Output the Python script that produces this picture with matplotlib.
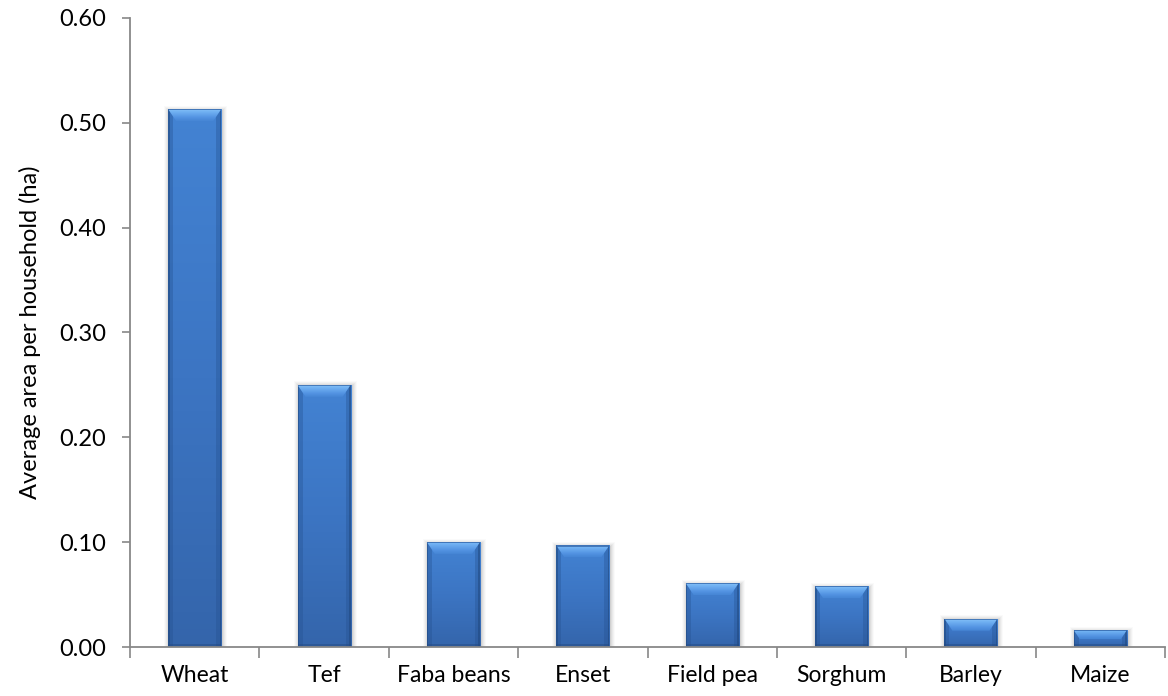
import numpy as np
import matplotlib.pyplot as plt
from matplotlib.patches import Polygon, Rectangle
from matplotlib.colors import LinearSegmentedColormap

# Average cultivated area per household by crop
crops = ["Wheat", "Tef", "Faba beans", "Enset", "Field pea", "Sorghum", "Barley", "Maize"]
area_ha = [0.513, 0.250, 0.100, 0.097, 0.061, 0.058, 0.027, 0.016]
y_ticks = [0.00, 0.10, 0.20, 0.30, 0.40, 0.50, 0.60]
y_label = "Average area per household (ha)"

plt.rcParams['font.family'] = ['Lato', 'DejaVu Sans']

W, H = 1168, 696
fig = plt.figure(figsize=(W / 100, H / 100), dpi=100)
ax_l, ax_b, ax_w, ax_h = 130, 49, 1035, 629
ax = fig.add_axes([ax_l / W, ax_b / H, ax_w / W, ax_h / H])

n = len(crops)
x = np.arange(n)
xlim = (-0.5, n - 0.5)
ylim = (0, 0.6)
sx = (xlim[1] - xlim[0]) / ax_w   # data units per pixel, x
sy = (ylim[1] - ylim[0]) / ax_h   # data units per pixel, y

bar_w = 0.41
body_cmap = LinearSegmentedColormap.from_list("body", ["#4383d3", "#3c75c3", "#3465ab"])
bevel_cmap = LinearSegmentedColormap.from_list(
    "bevel", [(0, "#86c0f7"), (0.25, "#6fb0f2"), (0.7, "#5393e2"), (1, "#4585d4")])
grad = np.linspace(0, 1, 256).reshape(-1, 1)

bars = ax.bar(x, area_ha, width=bar_w, color="#3a74c4", zorder=3, linewidth=0)

for rect, h in zip(bars, area_ha):
    x0 = rect.get_x()
    x1 = x0 + rect.get_width()
    # soft shadow around the bar
    for k, a in [(5, 0.025), (4, 0.035), (3, 0.045), (2, 0.06), (1, 0.08)]:
        ax.add_patch(Rectangle((x0 - k * sx + 1.0 * sx, 0),
                               (x1 - x0) + 2 * k * sx, h + k * sy - 1.5 * sy,
                               facecolor="#303030", alpha=a, linewidth=0, zorder=2))
    # body gradient
    im = ax.imshow(grad, extent=[x0, x1, 0, h], aspect="auto", cmap=body_cmap,
                   origin="upper", zorder=4, interpolation="bilinear")
    im.set_clip_path(rect)
    # side bevels: darker strips along the edges
    sw = 5
    for xs in (x0, x1 - sw * sx):
        ax.add_patch(Rectangle((xs, 0), sw * sx, h, facecolor="#24508e", alpha=0.35,
                               linewidth=0, zorder=5))
    for xs in (x0, x1 - 1.5 * sx):
        ax.add_patch(Rectangle((xs, 0), 1.5 * sx, h, facecolor="#1d4377", alpha=0.45,
                               linewidth=0, zorder=5))
    ax.add_patch(Rectangle((x0, 0), x1 - x0, 3 * sy, facecolor="#23497f", alpha=0.45,
                           linewidth=0, zorder=5))
    # top bevel
    bh = min(12, (h / sy) * 0.55)
    bw = 8 * bh / 12
    top = Polygon([(x0, h), (x1, h), (x1 - bw * sx, h - bh * sy), (x0 + bw * sx, h - bh * sy)],
                  closed=True, facecolor="none", edgecolor="none", zorder=6)
    ax.add_patch(top)
    im2 = ax.imshow(grad, extent=[x0, x1, h - bh * sy, h], aspect="auto", cmap=bevel_cmap,
                    origin="upper", zorder=6, interpolation="bilinear")
    im2.set_clip_path(top)
    # thin dark rim on top edge
    ax.add_patch(Rectangle((x0, h - 1.2 * sy), x1 - x0, 1.2 * sy, facecolor="#2d5fa3",
                           alpha=0.7, linewidth=0, zorder=7))

ax.set_xlim(*xlim)
ax.set_ylim(*ylim)

# y axis
ax.set_yticks(y_ticks)
ax.set_yticklabels([f"{v:.2f}" for v in y_ticks])
ax.set_ylabel(y_label, fontsize=17, color="#000000", labelpad=13)

# x axis: tick marks between categories, labels at centres
ax.set_xticks(np.arange(n + 1) - 0.5)
ax.set_xticklabels([])
ax.set_xticks(x, minor=True)
ax.set_xticklabels(crops, minor=True)

ax.tick_params(axis="y", direction="out", length=6, width=1.2, color="#888888",
               labelsize=17, pad=11)
ax.tick_params(axis="x", which="major", direction="out", length=8, width=1.2,
               color="#888888")
ax.tick_params(axis="x", which="minor", length=0, labelsize=16.5, pad=13)

for s in ["top", "right"]:
    ax.spines[s].set_visible(False)
for s in ["left", "bottom"]:
    ax.spines[s].set_color("#888888")
    ax.spines[s].set_linewidth(1.3)
    ax.spines[s].set_zorder(8)

fig.savefig("out.png", dpi=100)
